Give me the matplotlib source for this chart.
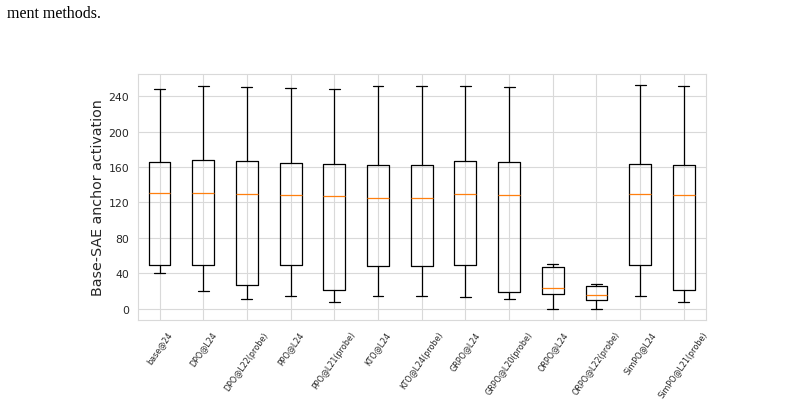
import matplotlib
matplotlib.use("Agg")
import matplotlib.pyplot as plt
import seaborn as sns

sns.set_style("whitegrid")
plt.rcParams['font.family'] = ['DejaVu Sans']

labels = ["base@24", "DPO@L24", "DPO@L22(probe)", "PPO@L24", "PPO@L21(probe)",
          "KTO@L24", "KTO@L24(probe)", "GRPO@L24", "GRPO@L20(probe)", "ORPO@L24",
          "ORPO@L22(probe)", "SimPO@L24", "SimPO@L21(probe)"]
whislo = [40, 20, 10.5, 14, 7.5, 14.6, 14.6, 12.7, 10.5, 0, 0, 14.6, 7.5]
q1 = [49, 49, 26.6, 48.7, 21, 48.4, 48.4, 49, 18.7, 16.5, 9.4, 48.7, 21]
med = [130, 130, 129, 128, 127.5, 124.5, 124.5, 129, 128, 23, 15.4, 129.4, 128]
q3 = [166, 168, 166.5, 164.6, 163.5, 162.4, 162.4, 167, 166, 46.5, 26, 163.5, 162.7]
whishi = [248.6, 252, 250.5, 249, 248, 252, 252, 251, 250, 50, 28, 252.4, 250.9]
yticks = [0, 40, 80, 120, 160, 200, 240]

stats = [dict(label=l, whislo=a, q1=b, med=c, q3=d, whishi=e, fliers=[])
         for l, a, b, c, d, e in zip(labels, whislo, q1, med, q3, whishi)]

fig = plt.figure(figsize=(7.86, 4.10), dpi=100)
ax = fig.add_axes([0.1752, 0.2178, 0.7226, 0.5993])
ax.bxp(stats, showfliers=False,
       boxprops=dict(color="black", linewidth=0.9),
       whiskerprops=dict(color="black", linewidth=0.9),
       capprops=dict(color="black", linewidth=0.9),
       medianprops=dict(color="#ff7f0e", linewidth=0.9))
ax.set_yticks(yticks)
ax.tick_params(axis='y', labelsize=7.8, colors='0.15', pad=2.5)
ax.tick_params(axis='x', labelsize=5.8, colors='0.15')
plt.setp(ax.get_xticklabels(), rotation=55)
ax.set_ylabel("Base-SAE anchor activation", fontsize=10.3, color='0.15', labelpad=2.5)
for s in ax.spines.values():
    s.set_color('0.85')
ax.grid(True, color='0.85', linewidth=0.8)

fig.text(7/786, 1 - 18/410, "ment methods.", family="Liberation Serif",
         fontsize=11.5, va="baseline", ha="left", color="black")

fig.savefig("out.png", dpi=100)
